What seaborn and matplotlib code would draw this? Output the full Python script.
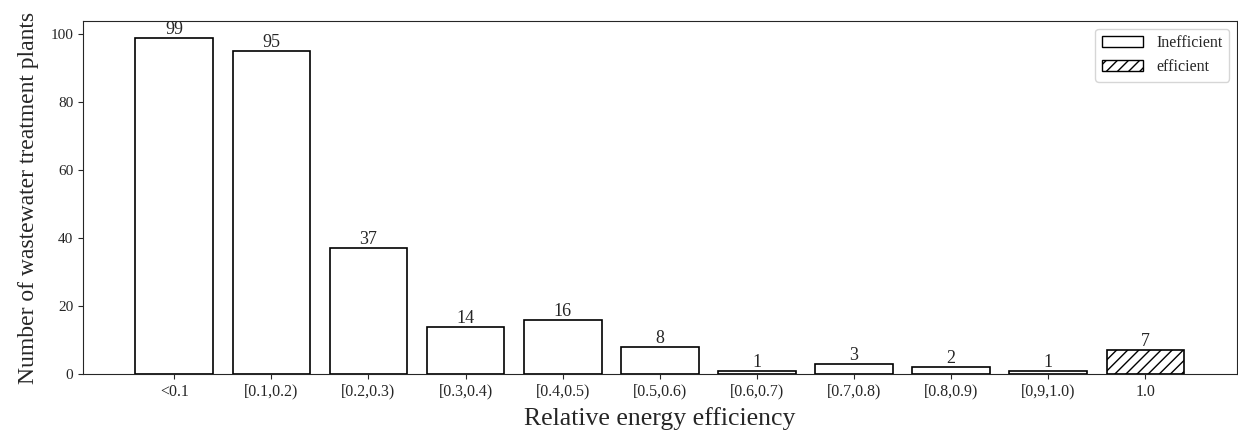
import numpy as np
import pandas as pd
import seaborn as sns
import matplotlib.pyplot as plt
from matplotlib.patches import Patch

categories = ['<0.1', '[0.1,0.2)', '[0.2,0.3)', '[0.3,0.4)', '[0.4,0.5)', '[0.5,0.6)',
              '[0.6,0.7)', '[0.7,0.8)', '[0.8,0.9)', '[0,9,1.0)', '1.0']
counts = [99, 95, 37, 14, 16, 8, 1, 3, 2, 1, 7]
status = ['Inefficient'] * 10 + ['efficient']

df = pd.DataFrame({'range': categories, 'count': counts, 'status': status})

sns.set_style('ticks')
plt.rcParams['font.family'] = ['Liberation Serif', 'DejaVu Serif']

fig = plt.figure(figsize=(12.38, 4.34), dpi=100)
ax = fig.add_axes([0.067, 0.138, 0.932, 0.814])

sns.barplot(data=df, x='range', y='count', hue='status', dodge=False,
            palette={'Inefficient': 'white', 'efficient': 'white'},
            edgecolor='black', linewidth=1.2, width=0.8, legend=False, ax=ax)

for bar in ax.containers[1]:
    bar.set_hatch('///')

for cont in ax.containers:
    ax.bar_label(cont, fontsize=13, padding=0)

# matplotlib-like default margins instead of seaborn's tight categorical limits
ax.set_xlim(-0.94, len(categories) - 1 + 0.94)
ax.set_ylim(0, 104)
ax.set_yticks([0, 20, 40, 60, 80, 100])
ax.tick_params(axis='x', labelsize=11.5)
ax.tick_params(axis='y', labelsize=11)
ax.set_xlabel('Relative energy efficiency', fontsize=18.5, labelpad=5)
ax.set_ylabel('Number of wastewater treatment plants', fontsize=17, labelpad=8)

handles = [Patch(facecolor='white', edgecolor='black', label='Inefficient'),
           Patch(facecolor='white', edgecolor='black', hatch='///', label='efficient')]
ax.legend(handles=handles, loc='upper right', fontsize=11.5, handlelength=2.6)

fig.savefig('out.png', dpi=100)
